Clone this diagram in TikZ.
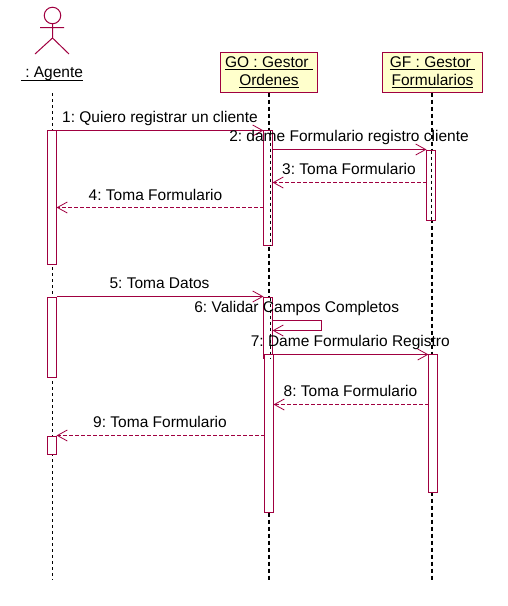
\documentclass[tikz,border=0pt]{standalone}
\usepackage{fontspec}
\setmainfont{Liberation Sans}
\usetikzlibrary{arrows.meta}
\definecolor{umlred}{HTML}{A00040}
\definecolor{umlyellow}{HTML}{FFFFCC}
\frenchspacing
\newcommand{\ulbar}[1]{\leavevmode\setbox0\hbox{#1}\rlap{\rule[-3pt]{\wd0}{1pt}}\box0}
\tikzset{
	activ/.style={draw=umlred,fill=white,line width=1pt,minimum width=9pt,inner sep=0pt,outer sep=0pt},
	objbox/.style={draw=umlred,fill=umlyellow,line width=1pt,inner sep=0pt,outer sep=0pt,minimum height=40pt,align=center,font=\fontsize{15.5}{18}\selectfont},
	msg/.style={draw=umlred,line width=1pt,-{Straight Barb[length=10pt,width=11pt,line width=0.8pt]}},
	ret/.style={msg,dash pattern=on 3.5pt off 2.5pt},
	lifethin/.style={line width=1pt,dash pattern=on 3pt off 3pt},
	lifethick/.style={line width=2pt,dash pattern=on 4pt off 3pt},
	lbl/.style={anchor=base,inner sep=0pt,font=\fontsize{15.5}{18}\selectfont}
}
\begin{document}
\begin{tikzpicture}[x=1pt,y=-1pt]
\useasboundingbox (0,0) rectangle (507,606);
\node[draw=umlred,line width=1pt,circle,minimum size=16.5pt,inner sep=0pt,outer sep=0pt] (head) at (52.5,15.5) {};
\coordinate (hip) at (52.5,38);
\coordinate (armL) at (40,27.5);
\coordinate (armR) at (64,27.5);
\coordinate (legL) at (35,54);
\coordinate (legR) at (69,54);
\draw[umlred,line width=1pt] (head.south)--(hip) (armL)--(armR) (legL)--(hip)--(legR);
\node[lbl] (agente) at (52,77.5) {\ulbar{\ :\ Agente}};
\node[objbox,minimum width=97pt] (go) at (269,72.5) {\ulbar{GO : Gestor\ }\\\ulbar{Ordenes}};
\node[objbox,minimum width=100pt] (gf) at (432.5,72.5) {\ulbar{GF : Gestor\ }\\\ulbar{Formularios}};

\coordinate (agTop) at (52.5,93);
\draw[lifethin] (agTop)--(agTop |- 0,580);
\draw[lifethick] (269,92.5)--(269,580);
\draw[lifethick] (432,92.5)--(432,580);

\foreach \n/\x/\ya/\yb in {ag1/52/130.5/264.5,ag2/52/297.5/377.5,ag3/52/436.5/454.5,go1/268/130.5/245.5,go2/268/297.5/358.5,go3/269/354.5/512.5,gf1/431/150.5/220.5,gf2/433/354.5/492.5}{
	\node[activ,minimum height=\yb-\ya] (\n) at (\x,{(\ya+\yb)/2}) {};
}
\foreach \n/\d in {go1/2,go2/2,gf1/0.5}{
	\draw[lifethin] ([xshift=\d pt]\n.north)--([xshift=\d pt]\n.south);
}

\draw[msg] (ag1.north east)--(go1.north west);
\draw[msg] (go1.east |- 0,149.5)--(gf1.west |- 0,149.5);
\draw[ret] (gf1.west |- 0,182.5)--(go1.east |- 0,182.5);
\draw[ret] (go1.west |- 0,207.5)--(ag1.east |- 0,207.5);
\draw[msg] (ag2.east |- 0,296.5)--(go2.west |- 0,296.5);
\draw[msg] (go2.east |- 0,320.5)--(321.5,320.5)--(321.5,330.5)--(go2.east |- 0,330.5);
\draw[msg] (go3.north west)--(gf2.north west);
\draw[ret] (gf2.west |- 0,404.5)--(go3.east |- 0,404.5);
\draw[ret] (go3.west |- 0,435.5)--(ag3.east |- 0,435.5);

\foreach \n/\x/\y/\t in {m1/160/122/1: Quiero registrar un cliente,m2/349/141/2: dame Formulario registro cliente,m3/349/174/3: Toma Formulario,m4/155.5/200/4: Toma Formulario,m5/159.5/288/5: Toma Datos,m6/296.7/312/6: Validar Campos Completos,m7/350.3/346/7: Dame Formulario Registro,m8/350.5/396/8: Toma Formulario,m9/160/427/9: Toma Formulario}{
	\node[lbl] (\n) at (\x,\y) {\t};
}
\end{tikzpicture}
\end{document}
